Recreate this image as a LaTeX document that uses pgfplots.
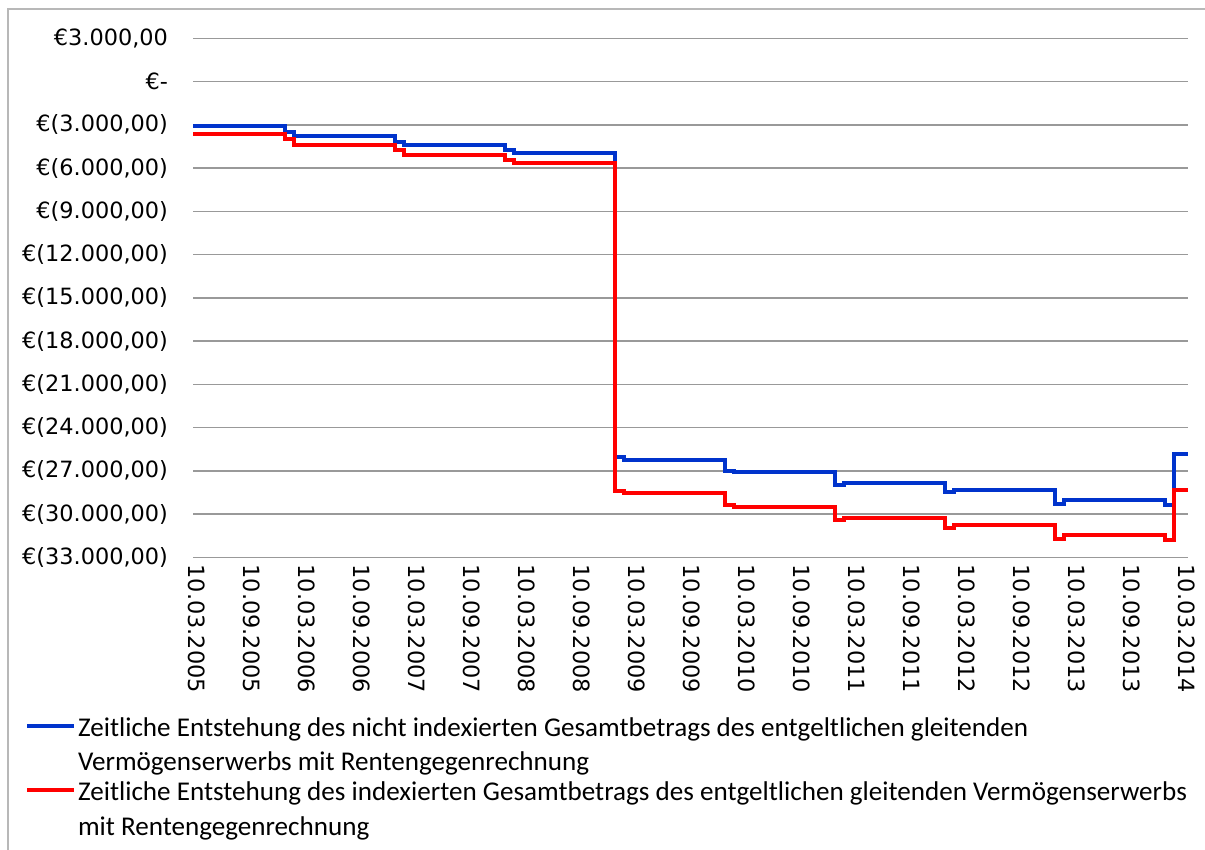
\documentclass[border=0pt]{standalone}
\usepackage{fontspec}
\setmainfont{Carlito}
\newfontfamily\dejavu{DejaVu Sans}
\usepackage{pgfplots}
\pgfplotsset{compat=1.18}
\definecolor{serBlue}{HTML}{0033CC}
\definecolor{serRed}{HTML}{FF0000}
\definecolor{gridGray}{HTML}{999999}
\newcommand{\legtext}[2]{\begin{tabular}[t]{@{}l@{}}#1\\#2\end{tabular}}

\begin{document}
\begin{tikzpicture}
\path[use as bounding box] (0pt,0pt) rectangle (602.5pt,-425pt);
\draw[gridGray!70, line width=0.8pt] (4pt,-425pt) -- (4pt,-4.5pt) -- (602.5pt,-4.5pt);
\begin{axis}[
  at={(96.5pt,-278.75pt)}, anchor=south west,
  scale only axis, width=497.5pt, height=259.6pt,
  xmin=0, xmax=108.55, ymin=-33000, ymax=3000,
  scaled y ticks=false,
  axis line style={draw=none}, tick style={draw=none},
  ymajorgrids, grid style={gridGray, line width=0.75pt},
  ytick={-33000,-30000,...,3000},
  yticklabels={€(33.000{,}00),€(30.000{,}00),€(27.000{,}00),€(24.000{,}00),
    €(21.000{,}00),€(18.000{,}00),€(15.000{,}00),€(12.000{,}00),€(9.000{,}00),
    €(6.000{,}00),€(3.000{,}00),€-\hspace{8.5pt},€3.000{,}00\hspace{2.5pt}},
  xtick={0,6,...,108},
  xticklabels={10.03.2005,10.09.2005,10.03.2006,10.09.2006,10.03.2007,10.09.2007,
    10.03.2008,10.09.2008,10.03.2009,10.09.2009,10.03.2010,10.09.2010,
    10.03.2011,10.09.2011,10.03.2012,10.09.2012,10.03.2013,10.09.2013,10.03.2014},
  ticklabel style={font=\dejavu\fontsize{11.2}{13}\selectfont},
  yticklabel style={anchor=east, xshift=-9pt},
  xticklabel style={rotate=-90, anchor=west, yshift=2pt},
  clip=false,
  legend style={at={(-0.1688,-0.2935)}, anchor=north west, draw=none, fill=none,
    font=\fontsize{13.55}{17.3}\selectfont, inner sep=0pt, row sep=17pt,
    nodes={inner sep=0.8pt}},
  legend cell align=left,
  legend image code/.code={\draw[#1] (0pt,0pt) -- (23.5pt,0pt);},
  every axis plot/.append style={line width=2pt, const plot, mark=none},
]
\addplot[serBlue] coordinates {
  (0,-3100) (10,-3470) (11,-3790) (22,-4160) (23,-4420) (34,-4770) (35,-4950)
  (46,-26060) (47,-26220) (58,-26980) (59,-27070) (70,-27970) (71,-27830)
  (82,-28490) (83,-28300) (94,-29270) (95,-28990) (106,-29360) (107,-25820)
  (108.55,-25820)};
\addlegendentry{\legtext{Zeitliche Entstehung des nicht indexierten Gesamtbetrags des entgeltlichen gleitenden}{Vermögenserwerbs mit Rentengegenrechnung}}
\addplot[serRed] coordinates {
  (0,-3630) (10,-3970) (11,-4370) (22,-4770) (23,-5060) (34,-5460) (35,-5640)
  (46,-28370) (47,-28510) (58,-29390) (59,-29500) (70,-30380) (71,-30290)
  (82,-30960) (83,-30750) (94,-31700) (95,-31420) (106,-31820) (107,-28300)
  (108.55,-28300)};
\addlegendentry{\legtext{Zeitliche Entstehung des indexierten Gesamtbetrags des entgeltlichen gleitenden Vermögenserwerbs}{mit Rentengegenrechnung}}
\end{axis}
\end{tikzpicture}
\end{document}
